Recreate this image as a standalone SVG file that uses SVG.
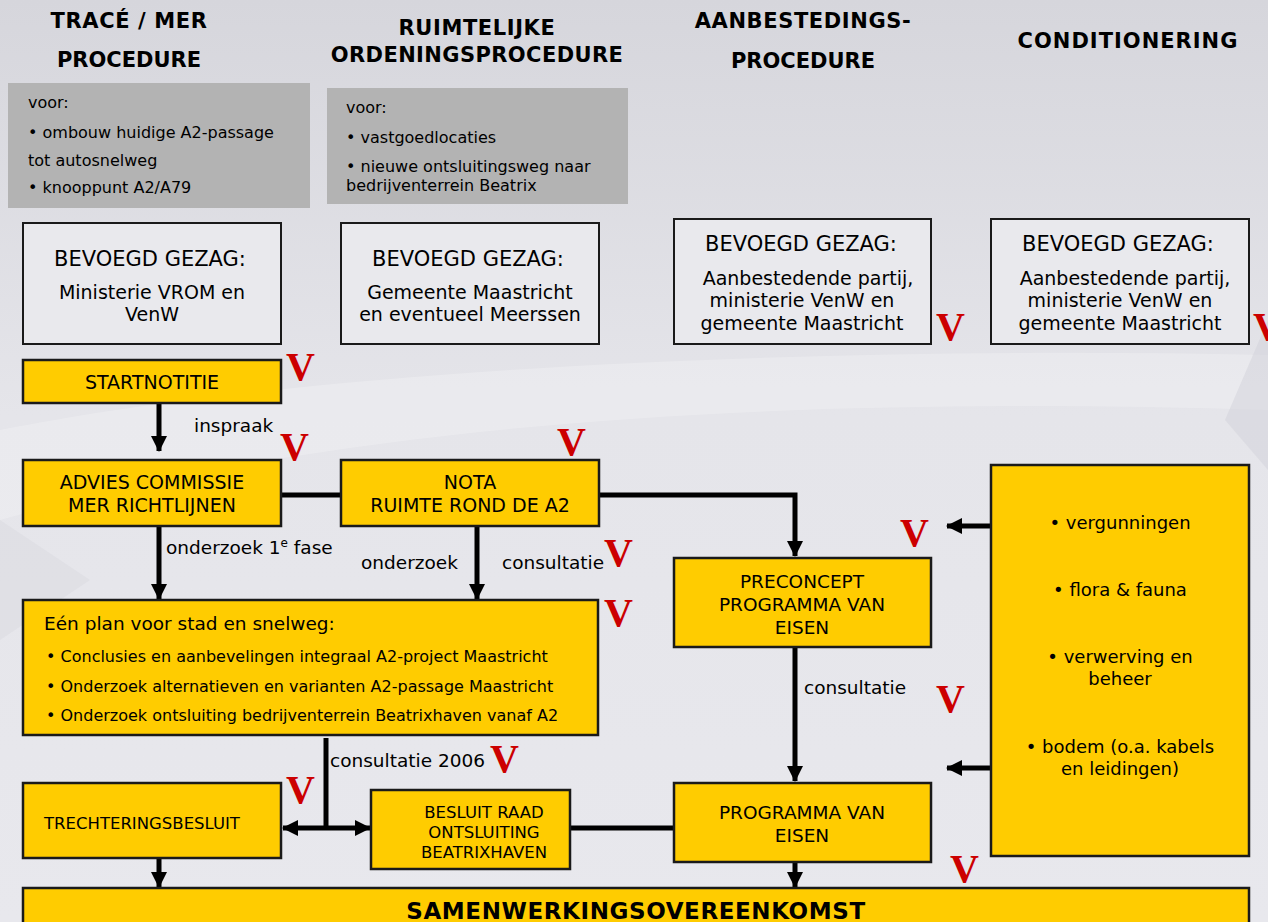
<svg xmlns="http://www.w3.org/2000/svg" width="1268" height="922" viewBox="0 0 1268 922">
<defs>
<linearGradient id="bg" x1="0" y1="0" x2="0" y2="1">
<stop offset="0" stop-color="#d6d6dc"/>
<stop offset="0.45" stop-color="#e5e5ea"/>
<stop offset="1" stop-color="#e8e8ed"/>
</linearGradient>
<marker id="ah" viewBox="0 0 16 16" refX="15" refY="8" markerWidth="16" markerHeight="16" markerUnits="userSpaceOnUse" orient="auto-start-reverse">
<path d="M0,0 L16,8 L0,16 Z" fill="#000"/>
</marker>
<style>
.hd{font-family:"DejaVu Sans",Verdana,sans-serif;font-weight:bold;font-size:21px;fill:#000;text-anchor:middle}
.t{font-family:"DejaVu Sans",Verdana,sans-serif;fill:#000}
.c{text-anchor:middle}
.gray{fill:#b3b3b3}
.bg{fill:#e9e9ed;stroke:#1a1a1a;stroke-width:2}
.y{fill:#ffcc00;stroke:#1a1a1a;stroke-width:2.5}
.v{font-family:"Liberation Serif","Times New Roman",serif;font-weight:bold;font-size:40px;fill:#cc0000}
.ln{stroke:#000;stroke-width:5;fill:none}
.ar{stroke:#000;stroke-width:5;fill:none;marker-end:url(#ah)}
.gv{font-size:16px}
.gz{font-size:21px}
.gs{font-size:19px}
.lb{font-size:18.5px}
.bx{font-size:19px}
.sm{font-size:16.5px}
.bl{font-size:16px}
</style>
</defs>
<rect width="1268" height="922" fill="url(#bg)"/>
<path d="M0,430 C300,370 800,345 1268,355 L1268,410 C800,395 350,420 0,520 Z" fill="#ffffff" opacity="0.22"/>
<path d="M0,520 L90,580 L0,640 Z" fill="#d9d9e0" opacity="0.5"/>
<path d="M1268,320 L1268,470 L1225,420 Z" fill="#d2d2da" opacity="0.5"/>

<g id="headers">
<text class="hd" x="129" y="28" letter-spacing="0.6">TRACÉ / MER</text>
<text class="hd" x="129" y="67">PROCEDURE</text>
<text class="hd" x="477" y="35" letter-spacing="0.6">RUIMTELIJKE</text>
<text class="hd" x="477" y="62" letter-spacing="0.4">ORDENINGSPROCEDURE</text>
<text class="hd" x="803" y="28" letter-spacing="0.6">AANBESTEDINGS-</text>
<text class="hd" x="803" y="68">PROCEDURE</text>
<text class="hd" x="1128" y="48" letter-spacing="1">CONDITIONERING</text>
</g>

<g id="voor1">
<rect class="gray" x="8" y="83" width="302" height="125"/>
<text class="t gv" x="28" y="108">voor:</text>
<text class="t gv" x="28" y="138">• ombouw huidige A2-passage</text>
<text class="t gv" x="28" y="166">tot autosnelweg</text>
<text class="t gv" x="28" y="193">• knooppunt A2/A79</text>
</g>
<g id="voor2">
<rect class="gray" x="327" y="88" width="301" height="116"/>
<text class="t gv" x="346" y="113">voor:</text>
<text class="t gv" x="346" y="143">• vastgoedlocaties</text>
<text class="t gv" x="346" y="172">• nieuwe ontsluitingsweg naar</text>
<text class="t gv" x="346" y="191">bedrijventerrein Beatrix</text>
</g>

<g id="gezag1">
<rect class="bg" x="23" y="223" width="258" height="121"/>
<text class="t c gz" x="150" y="266">BEVOEGD GEZAG:</text>
<text class="t c gs" x="152" y="299">Ministerie VROM en</text>
<text class="t c gs" x="152" y="321">VenW</text>
</g>
<g id="gezag2">
<rect class="bg" x="341" y="223" width="258" height="121"/>
<text class="t c gz" x="468" y="266">BEVOEGD GEZAG:</text>
<text class="t c gs" x="470" y="299">Gemeente Maastricht</text>
<text class="t c gs" x="470" y="321">en eventueel Meerssen</text>
</g>
<g id="gezag3">
<rect class="bg" x="674" y="219" width="257" height="125"/>
<text class="t c gz" x="801" y="251">BEVOEGD GEZAG:</text>
<text class="t c gs" x="808" y="285">Aanbestedende partij,</text>
<text class="t c gs" x="802" y="307">ministerie VenW en</text>
<text class="t c gs" x="802" y="330">gemeente Maastricht</text>
</g>
<g id="gezag4">
<rect class="bg" x="991" y="219" width="258" height="125"/>
<text class="t c gz" x="1118" y="251">BEVOEGD GEZAG:</text>
<text class="t c gs" x="1125" y="285">Aanbestedende partij,</text>
<text class="t c gs" x="1120" y="307">ministerie VenW en</text>
<text class="t c gs" x="1120" y="330">gemeente Maastricht</text>
</g>

<g id="connectors">
<line class="ar" x1="159" y1="403" x2="159" y2="451"/>
<line class="ln" x1="281" y1="495" x2="341" y2="495"/>
<polyline class="ar" points="599,495 795,495 795,556"/>
<line class="ar" x1="159" y1="526" x2="159" y2="599"/>
<line class="ar" x1="477" y1="526" x2="477" y2="599"/>
<line class="ln" x1="326" y1="738" x2="326" y2="828"/>
<line class="ar" x1="326" y1="828" x2="283" y2="828"/>
<line class="ar" x1="326" y1="828" x2="370" y2="828"/>
<line class="ln" x1="570" y1="828" x2="674" y2="828"/>
<line class="ar" x1="795" y1="647" x2="795" y2="781"/>
<line class="ar" x1="795" y1="862" x2="795" y2="887"/>
<line class="ar" x1="159" y1="858" x2="159" y2="887"/>
<line class="ar" x1="991" y1="526" x2="947" y2="526"/>
<line class="ar" x1="991" y1="768" x2="947" y2="768"/>
<text class="t lb" x="194" y="432">inspraak</text>
<text class="t lb" x="166" y="554">onderzoek 1<tspan font-size="12" dy="-7">e</tspan><tspan dy="7"> fase</tspan></text>
<text class="t lb" x="361" y="569">onderzoek</text>
<text class="t lb" x="502" y="569">consultatie</text>
<text class="t lb" x="330" y="767">consultatie 2006</text>
<text class="t lb" x="804" y="694">consultatie</text>
</g>

<g id="startnotitie">
<rect class="y" x="23" y="360" width="258" height="43"/>
<text class="t c bx" x="152" y="389">STARTNOTITIE</text>
</g>
<g id="advies">
<rect class="y" x="23" y="460" width="258" height="66"/>
<text class="t c bx" x="152" y="489">ADVIES COMMISSIE</text>
<text class="t c bx" x="152" y="512">MER RICHTLIJNEN</text>
</g>
<g id="nota">
<rect class="y" x="341" y="460" width="258" height="66"/>
<text class="t c bx" x="470" y="489">NOTA</text>
<text class="t c bx" x="470" y="512">RUIMTE ROND DE A2</text>
</g>
<g id="eenplan">
<rect class="y" x="23" y="600" width="575" height="135"/>
<text class="t" font-size="18.5" x="44" y="630">Eén plan voor stad en snelweg:</text>
<text class="t bl" x="46" y="662">•  Conclusies en aanbevelingen integraal A2-project Maastricht</text>
<text class="t bl" x="46" y="692">• Onderzoek alternatieven en varianten A2-passage Maastricht</text>
<text class="t bl" x="46" y="721">• Onderzoek ontsluiting bedrijventerrein Beatrixhaven vanaf A2</text>
</g>
<g id="trechter">
<rect class="y" x="23" y="783" width="258" height="75"/>
<text class="t sm" x="44" y="829">TRECHTERINGSBESLUIT</text>
</g>
<g id="besluit">
<rect class="y" x="371" y="790" width="199" height="79"/>
<text class="t c sm" x="484" y="818">BESLUIT RAAD</text>
<text class="t c sm" x="484" y="838">ONTSLUITING</text>
<text class="t c sm" x="484" y="858">BEATRIXHAVEN</text>
</g>
<g id="preconcept">
<rect class="y" x="674" y="558" width="257" height="89"/>
<text class="t c" font-size="18.5" x="802" y="588">PRECONCEPT</text>
<text class="t c" font-size="18.5" x="802" y="611">PROGRAMMA VAN</text>
<text class="t c" font-size="18.5" x="802" y="634">EISEN</text>
</g>
<g id="pve">
<rect class="y" x="674" y="783" width="257" height="79"/>
<text class="t c" font-size="18.5" x="802" y="819">PROGRAMMA VAN</text>
<text class="t c" font-size="18.5" x="802" y="842">EISEN</text>
</g>
<g id="conditionering">
<rect class="y" x="991" y="465" width="258" height="391"/>
<text class="t c" font-size="18" x="1120" y="529">• vergunningen</text>
<text class="t c" font-size="18" x="1120" y="596">• flora &amp; fauna</text>
<text class="t c" font-size="18" x="1120" y="663">• verwerving en</text>
<text class="t c" font-size="18" x="1120" y="685">beheer</text>
<text class="t c" font-size="18" x="1120" y="753">• bodem (o.a. kabels</text>
<text class="t c" font-size="18" x="1120" y="775">en leidingen)</text>
</g>
<g id="samenwerking">
<rect class="y" x="23" y="888" width="1226" height="40"/>
<text class="t c" font-size="23" font-weight="bold" letter-spacing="0.6" x="636" y="919">SAMENWERKINGSOVEREENKOMST</text>
</g>

<g id="checks">
<text class="v" x="286" y="380">V</text>
<text class="v" x="280" y="460">V</text>
<text class="v" x="557" y="455">V</text>
<text class="v" x="604" y="566">V</text>
<text class="v" x="604" y="626">V</text>
<text class="v" x="286" y="803">V</text>
<text class="v" x="490" y="772">V</text>
<text class="v" x="936" y="340">V</text>
<text class="v" x="1253" y="340">V</text>
<text class="v" x="900" y="546">V</text>
<text class="v" x="936" y="712">V</text>
<text class="v" x="950" y="882">V</text>
</g>
</svg>
